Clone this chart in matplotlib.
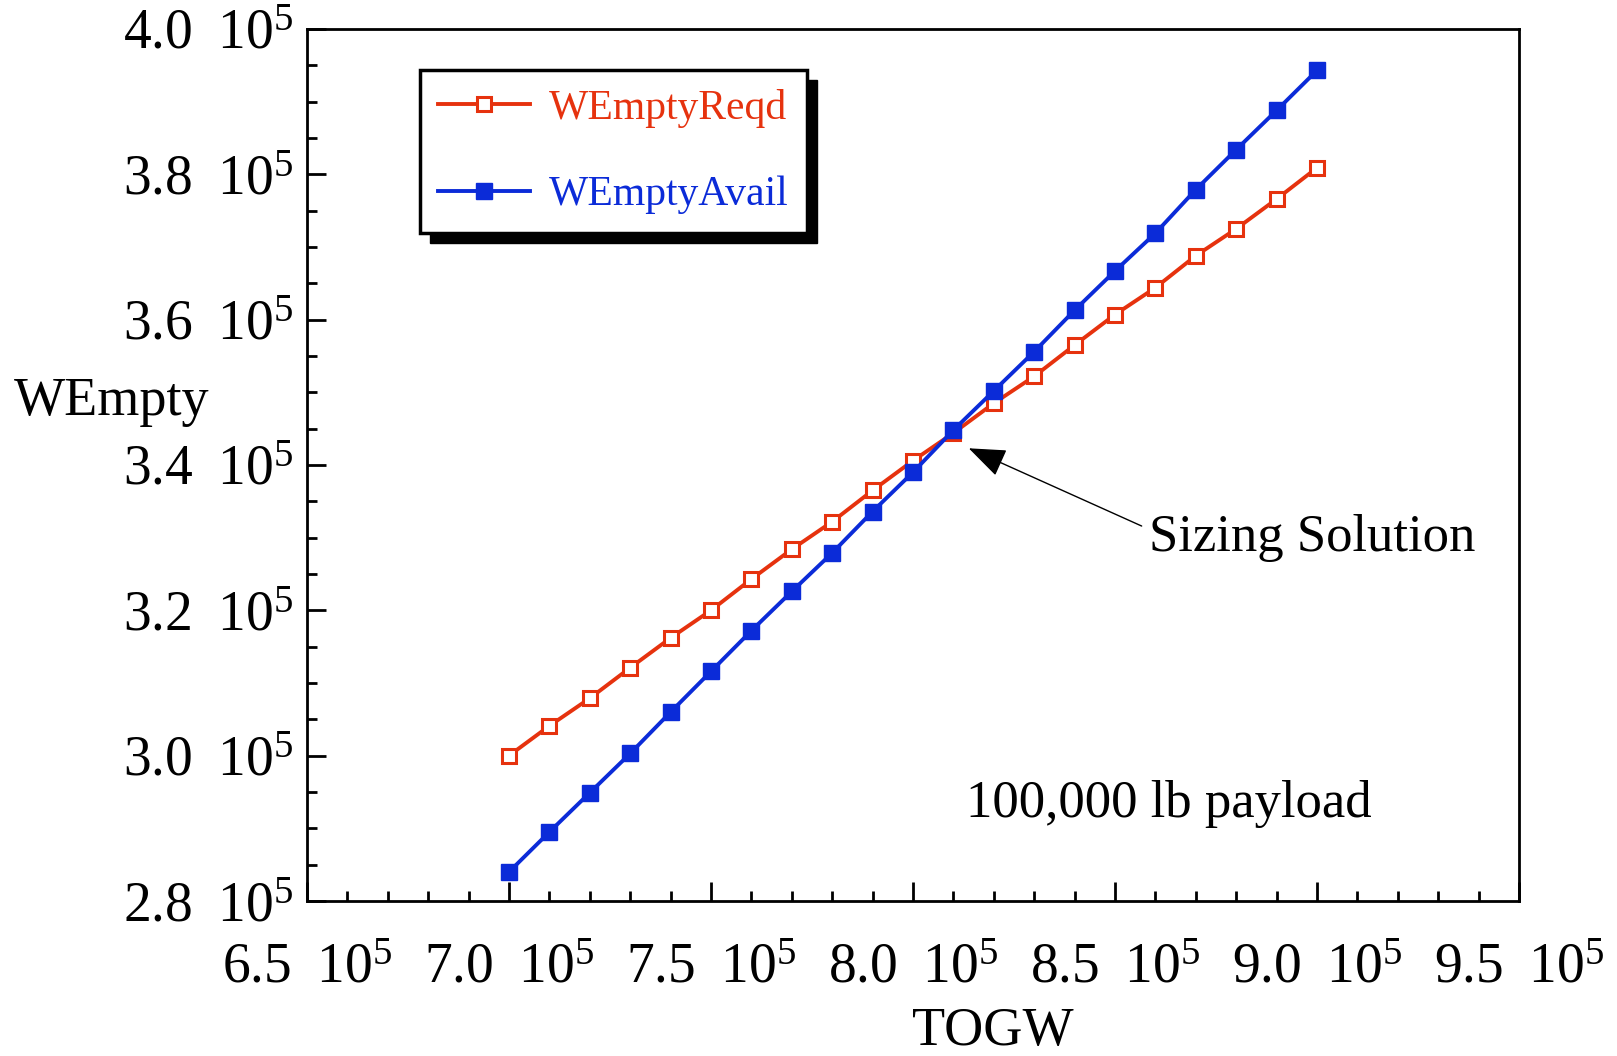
import numpy as np
import matplotlib
matplotlib.use("Agg")
import matplotlib.pyplot as plt
from matplotlib.ticker import MultipleLocator, FuncFormatter
from matplotlib.patches import Rectangle

plt.rcParams['font.family'] = ['Liberation Serif', 'DejaVu Serif']
plt.rcParams['mathtext.fontset'] = 'custom'
plt.rcParams['mathtext.rm'] = 'Liberation Serif'

# data (units of 1e5 lb)
togw = [7.0, 7.1, 7.2, 7.3, 7.4, 7.5, 7.6, 7.7, 7.8, 7.9, 8.0,
        8.1, 8.2, 8.3, 8.4, 8.5, 8.6, 8.7, 8.8, 8.9, 9.0]
wempty_reqd = [3.000, 3.041, 3.079, 3.121, 3.162, 3.200, 3.243, 3.284, 3.322, 3.365, 3.406,
               3.444, 3.485, 3.522, 3.565, 3.607, 3.644, 3.688, 3.725, 3.766, 3.809]
wempty_avail = [2.840, 2.895, 2.949, 3.003, 3.060, 3.116, 3.172, 3.226, 3.279, 3.336, 3.390,
                 3.448, 3.502, 3.556, 3.613, 3.667, 3.719, 3.779, 3.834, 3.888, 3.943]

red = '#e6320e'
blue = '#0b2bd8'

fig = plt.figure(figsize=(16.17, 10.56), dpi=100)
ax = fig.add_axes([307/1617, 1 - 901/1056, 1212/1617, 872/1056])

ax.plot(np.array(togw) * 1e5, np.array(wempty_reqd) * 1e5, color=red, lw=2.8,
        marker='s', ms=10, mfc='white', mec=red, mew=2.2, label='WEmptyReqd', zorder=3)
ax.plot(np.array(togw) * 1e5, np.array(wempty_avail) * 1e5, color=blue, lw=2.8,
        marker='s', ms=11.5, mfc=blue, mec=blue, label='WEmptyAvail', zorder=4)

ax.set_xlim(6.5e5, 9.5e5)
ax.set_ylim(2.8e5, 4.0e5)

fmt = FuncFormatter(lambda v, p: "%.1f \u2009$\\mathregular{10^{5}}$" % (v / 1e5))
ax.xaxis.set_major_locator(MultipleLocator(0.5e5))
ax.xaxis.set_minor_locator(MultipleLocator(0.1e5))
ax.yaxis.set_major_locator(MultipleLocator(0.2e5))
ax.yaxis.set_minor_locator(MultipleLocator(0.05e5))
ax.xaxis.set_major_formatter(fmt)
ax.yaxis.set_major_formatter(fmt)

ax.tick_params(which='major', direction='in', length=14, width=2, labelsize=40,
               top=False, right=False)
ax.tick_params(which='minor', direction='in', length=7, width=2, top=False, right=False)
ax.tick_params(axis='x', which='major', pad=30)
ax.tick_params(axis='y', which='major', pad=10)
for s in ax.spines.values():
    s.set_linewidth(2)

ax.set_ylabel('WEmpty', rotation=0, fontsize=39, ha='center', va='center')
ax.yaxis.set_label_coords(-0.161, 0.572)
ax.set_xlabel('TOGW', fontsize=39)
ax.xaxis.set_label_coords(0.566, -0.121)

ax.annotate('', xy=(8.138e5, 3.423e5), xytext=(8.566e5, 3.316e5),
            arrowprops=dict(arrowstyle='-|>,head_length=1.3,head_width=0.5',
                            color='black', lw=1, mutation_scale=18, shrinkA=0, shrinkB=0))
ax.text(8.584e5, 3.30e5, 'Sizing Solution', fontsize=38, ha='left', va='center')
ax.text(8.13e5, 2.933e5, '100,000 lb payload', fontsize=38, ha='left', va='center')

leg = ax.legend(loc='upper left', bbox_to_anchor=(0.093, 0.953), borderaxespad=0,
                fontsize=30, fancybox=False, edgecolor='black', framealpha=1,
                handlelength=2.2, handletextpad=0.45, labelspacing=1.15,
                borderpad=0.45, numpoints=1, labelcolor='linecolor')
leg.get_frame().set_linewidth(2.5)
leg.set_zorder(10)

# offset black shadow behind the legend box
fig.canvas.draw()
bb = leg.get_window_extent()
shadow = Rectangle((bb.x0 + 10, bb.y0 - 10), bb.width, bb.height, transform=None,
                   facecolor='black', edgecolor='black', zorder=9, clip_on=False)
ax.add_artist(shadow)

fig.savefig('out.png', dpi=100)
